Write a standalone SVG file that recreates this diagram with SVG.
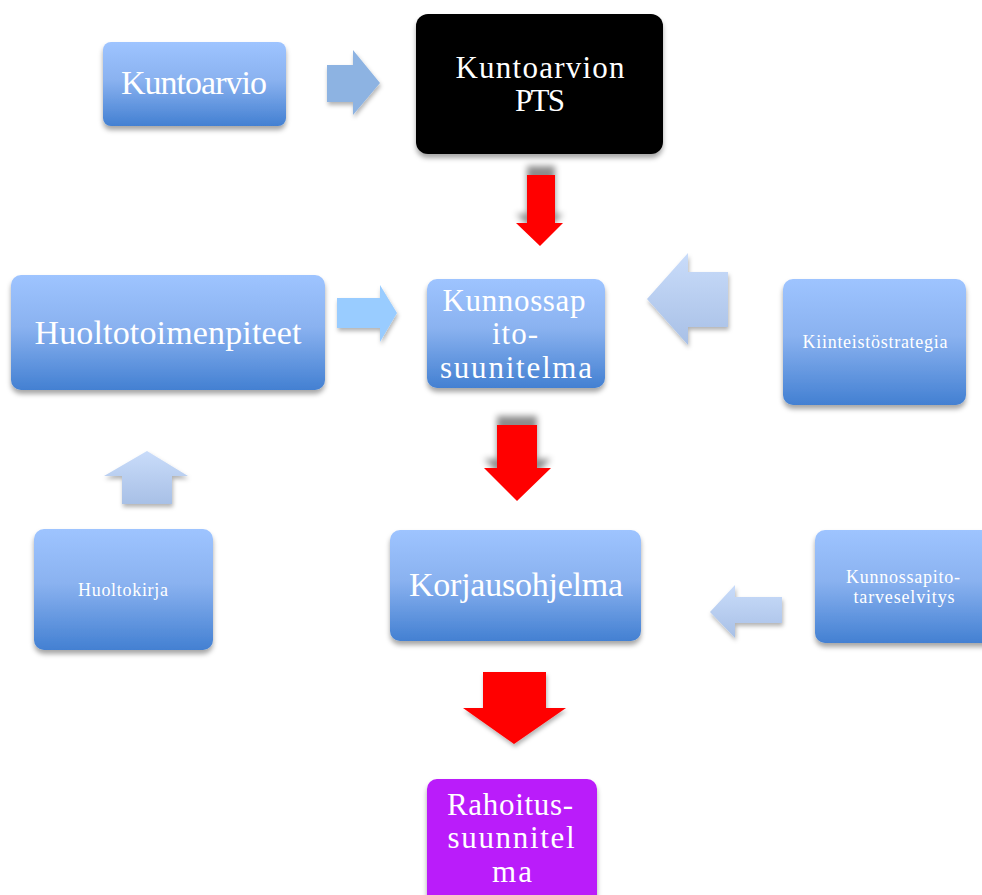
<svg xmlns="http://www.w3.org/2000/svg" width="982" height="895" viewBox="0 0 982 895">
<defs>
<linearGradient id="gBox" x1="0" y1="0" x2="0" y2="1">
<stop offset="0" stop-color="#9EC4FF"/>
<stop offset="0.45" stop-color="#8AB2F0"/>
<stop offset="1" stop-color="#4380D2"/>
</linearGradient>
<linearGradient id="gArr" x1="0" y1="0" x2="0" y2="1">
<stop offset="0" stop-color="#C9DCFA"/>
<stop offset="1" stop-color="#A8C0E6"/>
</linearGradient>
<filter id="fBox" x="-10%" y="-10%" width="120%" height="130%">
<feGaussianBlur in="SourceAlpha" stdDeviation="2.5"/>
<feOffset dx="0" dy="4" result="b"/>
<feFlood flood-color="#000" flood-opacity="0.35"/>
<feComposite in2="b" operator="in"/>
<feMerge><feMergeNode/><feMergeNode in="SourceGraphic"/></feMerge>
</filter>
<filter id="fRed" x="-30%" y="-30%" width="160%" height="160%">
<feGaussianBlur in="SourceAlpha" stdDeviation="3"/>
<feOffset dx="0" dy="-9" result="b"/>
<feFlood flood-color="#000" flood-opacity="0.45"/>
<feComposite in2="b" operator="in"/>
<feMerge><feMergeNode/><feMergeNode in="SourceGraphic"/></feMerge>
</filter>
<filter id="fArr" x="-20%" y="-20%" width="140%" height="140%">
<feGaussianBlur in="SourceAlpha" stdDeviation="2"/>
<feOffset dx="1" dy="3" result="b"/>
<feFlood flood-color="#000" flood-opacity="0.3"/>
<feComposite in2="b" operator="in"/>
<feMerge><feMergeNode/><feMergeNode in="SourceGraphic"/></feMerge>
</filter>
</defs>
<style>
.box{fill:url(#gBox);filter:url(#fBox)}
.t{font-family:"Liberation Serif","Times New Roman",serif;fill:#fff;text-anchor:middle}
.big{font-size:34px}
.mid{font-size:31px}
.sm{font-size:18px}
.red{fill:#FF0000;filter:url(#fRed)}
.la{fill:url(#gArr);filter:url(#fArr)}
</style>
<rect width="982" height="895" fill="#fff"/>
<g id="connectors">
<polygon points="327,65 353,65 353,50 380,83 353,115 353,102 327,102" fill="#8DB3E2" filter="url(#fArr)"/>
<polygon class="red" points="527,175 555,175 555,223 563,223 540,246 516,223 527,223"/>
<polygon points="337,298 380,298 380,285 397,313 380,342 380,328 337,328" fill="#99CCFF" filter="url(#fArr)"/>
<polygon class="la" points="728,272 688,272 688,253 647,299 688,345 688,327 728,327"/>
<polygon class="red" points="497,425 537,425 537,468 551,468 517,501 484,468 497,468"/>
<polygon class="la" points="172,504 172,476 188,476 147,451 104,476 122,476 122,504"/>
<polygon class="la" points="782,597 735,597 735,585 710,612 735,638 735,623 782,623"/>
<polygon points="483,672 546,672 546,708 566,708 514,744 463,708 483,708" fill="#FF0000" filter="url(#fArr)"/>
</g>
<g id="kuntoarvio">
<rect class="box" x="103" y="42" width="183" height="84" rx="8"/>
<text class="t big" x="194" y="94" textLength="146">Kuntoarvio</text>
</g>
<g id="kuntoarvion-pts">
<rect x="416" y="14" width="247" height="140" rx="12" fill="#000" filter="url(#fBox)"/>
<text class="t mid" x="540" y="78" textLength="169">Kuntoarvion</text>
<text class="t mid" x="540" y="111" textLength="50">PTS</text>
</g>
<g id="kunnossapitosuunnitelma">
<rect class="box" x="427" y="279" width="178" height="109" rx="10"/>
<text class="t mid" x="514" y="311" textLength="143">Kunnossap</text>
<text class="t mid" x="515" y="344" textLength="46">ito-</text>
<text class="t mid" x="516" y="378" textLength="152">suunitelma</text>
</g>
<g id="huoltotoimenpiteet">
<rect class="box" x="11" y="275" width="314" height="115" rx="10"/>
<text class="t big" x="168" y="344" textLength="267">Huoltotoimenpiteet</text>
</g>
<g id="kiinteistostrategia">
<rect class="box" x="783" y="279" width="183" height="126" rx="10"/>
<text class="t sm" x="875" y="348" textLength="145">Kiinteistöstrategia</text>
</g>
<g id="korjausohjelma">
<rect class="box" x="390" y="530" width="251" height="111" rx="10"/>
<text class="t big" x="516" y="596" textLength="214">Korjausohjelma</text>
</g>
<g id="kunnossapitotarveselvitys">
<rect class="box" x="815" y="530" width="180" height="113" rx="10"/>
<text class="t sm" x="903" y="583" textLength="114">Kunnossapito-</text>
<text class="t sm" x="904" y="603" textLength="101">tarveselvitys</text>
</g>
<g id="huoltokirja">
<rect class="box" x="34" y="529" width="179" height="121" rx="10"/>
<text class="t sm" x="123" y="596" textLength="90">Huoltokirja</text>
</g>
<g id="rahoitussuunnitelma">
<rect x="427" y="779" width="170" height="130" rx="10" fill="#BA1BFA" filter="url(#fBox)"/>
<text class="t mid" x="510" y="815" textLength="126">Rahoitus-</text>
<text class="t mid" x="511" y="848" textLength="127">suunnitel</text>
<text class="t mid" x="512" y="882" textLength="40">ma</text>
</g>
</svg>
